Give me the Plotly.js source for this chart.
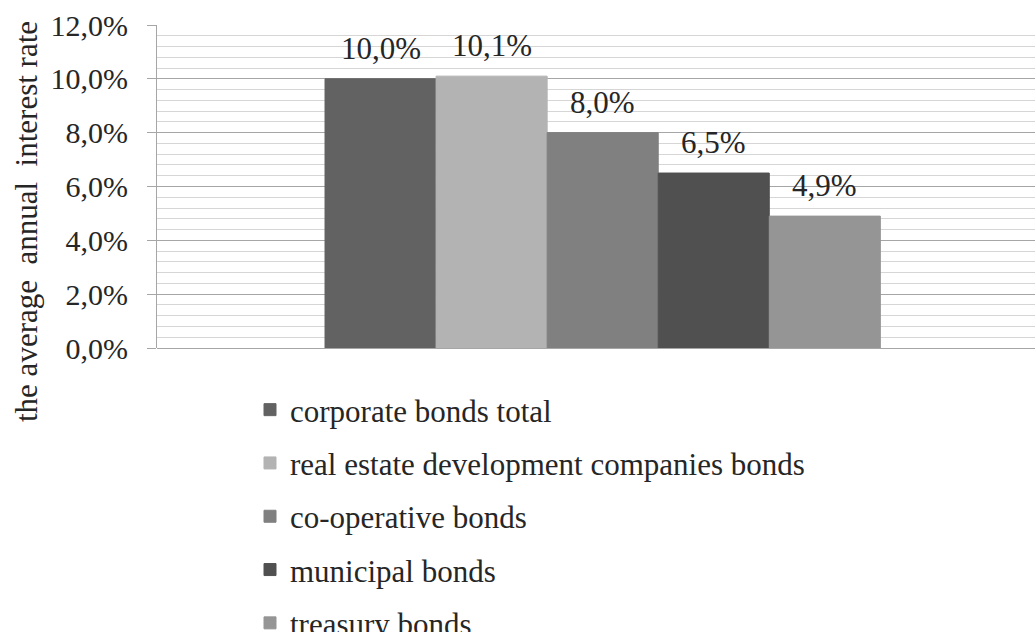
<!DOCTYPE html>
<html>
<head>
<meta charset="utf-8">
<script src="https://cdn.plot.ly/plotly-3.0.1.min.js"></script>
<style>html,body{margin:0;padding:0;background:#fff;}#chart{width:1035px;height:632px;}</style>
</head>
<body>
<div id="chart"></div>
<script>
var categories = ['average annual interest rate'];
var seriesNames = ['corporate bonds total', 'real estate development companies bonds', 'co-operative bonds', 'municipal bonds', 'treasury bonds'];
var seriesValues = [0.100, 0.101, 0.080, 0.065, 0.049];
var seriesColors = ['#626262', '#b3b3b3', '#808080', '#505050', '#959595'];
var yTickValues = [0, 0.02, 0.04, 0.06, 0.08, 0.10, 0.12];
var yTitle = 'the average\u00a0\u00a0annual\u00a0\u00a0interest rate';

var FONT = '"Liberation Serif", "Times New Roman", Times, serif';
var W = 1035, H = 632, ML = 157, MR = 0, MT = 25, MB = 284;
var plotW = W - ML - MR, plotH = H - MT - MB;
var XRANGE = [-0.5, 0.485];
var BARGAP = 0.377;

var traces = seriesNames.map(function (name, i) {
  return {
    type: 'bar',
    name: name,
    x: categories,
    y: [seriesValues[i]],
    marker: {color: seriesColors[i], line: {color: seriesColors[i], width: 1}},
    legendgroup: 'g' + i,
    hoverinfo: 'skip'
  };
});

// value labels placed over each grouped bar (offset derived from the group layout)
var n = seriesNames.length;
var pxPerUnit = plotW / (XRANGE[1] - XRANGE[0]);
var barPx = pxPerUnit * (1 - BARGAP) / n;
var labelAnnotations = seriesValues.map(function (v, i) {
  return {
    xref: 'x', yref: 'y', x: categories[0], y: v,
    xshift: (i - (n - 1) / 2) * barPx, yshift: 11,
    text: Plotly.d3 ? '' : '', showarrow: false,
    xanchor: 'center', yanchor: 'bottom',
    font: {family: FONT, size: 31, color: '#262626'},
    _v: v
  };
});

var layout = {
  width: W, height: H,
  paper_bgcolor: '#ffffff', plot_bgcolor: '#ffffff',
  separators: ', ',
  barmode: 'group',
  bargap: BARGAP,
  bargroupgap: 0,
  margin: {l: ML, r: MR, t: MT, b: MB, pad: 0, autoexpand: false},
  font: {family: FONT, color: '#262626'},
  showlegend: true,
  legend: {
    xref: 'paper', yref: 'paper',
    x: (250 - ML) / plotW, y: (H - MB - 383) / plotH, xanchor: 'left', yanchor: 'top',
    orientation: 'v', traceorder: 'grouped', tracegroupgap: 10,
    font: {family: FONT, size: 31, color: '#262626'},
    bgcolor: 'rgba(0,0,0,0)'
  },
  xaxis: {
    type: 'category', range: XRANGE, showticklabels: false,
    showgrid: false, zeroline: false, showline: false, ticks: ''
  },
  yaxis: {
    range: [0, 0.12], tickvals: yTickValues, tickformat: '.1%',
    tickfont: {family: FONT, size: 30, color: '#262626'},
    showgrid: true, gridcolor: '#a6a6a6', gridwidth: 1,
    minor: {dtick: 0.004, showgrid: true, gridcolor: '#d6d6d6', gridwidth: 1, ticks: ''},
    ticks: 'outside', ticklen: 9, tickcolor: '#a6a6a6', ticklabelstandoff: 13,
    showline: true, linecolor: '#a6a6a6', linewidth: 1,
    zeroline: true, zerolinecolor: '#a6a6a6', zerolinewidth: 1
  },
  annotations: [{
    xref: 'paper', yref: 'paper',
    x: (27 - ML) / plotW, y: (H - MB - 222) / plotH,
    text: yTitle, showarrow: false, textangle: -90,
    font: {family: FONT, size: 31, color: '#262626'},
    xanchor: 'center', yanchor: 'middle'
  }]
};

// format labels with the same comma-decimal convention as the axis
labelAnnotations.forEach(function (a) {
  a.text = (a._v * 100).toFixed(1).replace('.', ',') + '%';
  delete a._v;
  layout.annotations.push(a);
});

Plotly.newPlot('chart', traces, layout, {displayModeBar: false, staticPlot: true});
</script>
</body>
</html>
